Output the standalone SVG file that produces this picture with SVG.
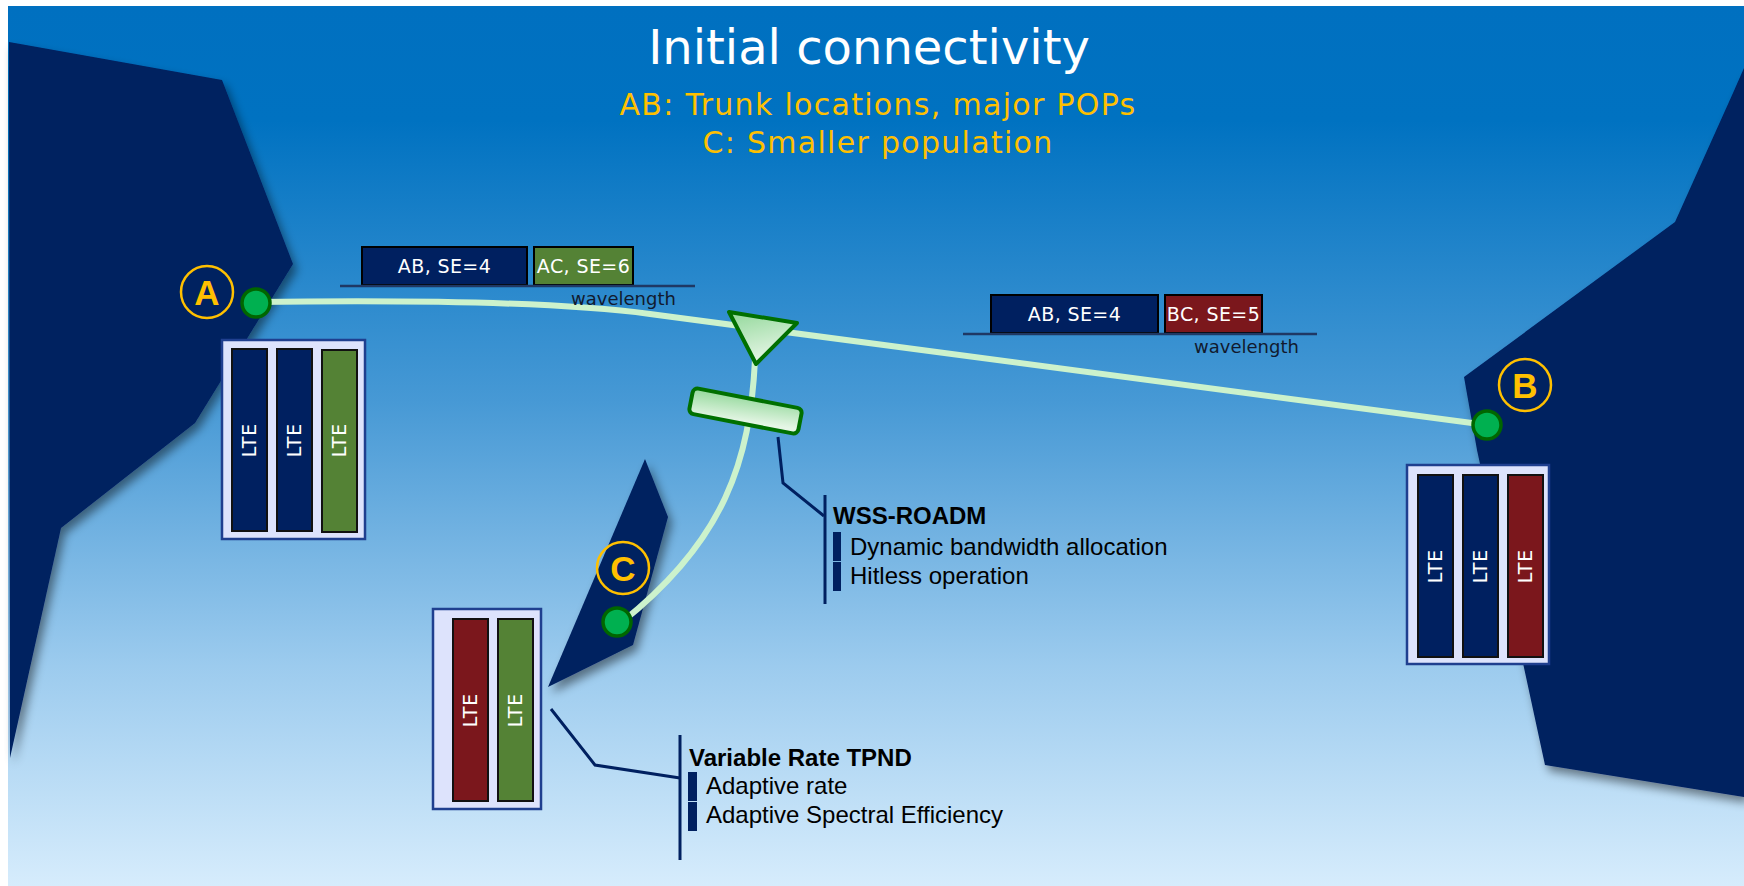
<svg xmlns="http://www.w3.org/2000/svg" width="1744" height="886" viewBox="0 0 1744 886">
  <defs>
    <linearGradient id="sky" x1="0" y1="0" x2="0" y2="1">
      <stop offset="0" stop-color="#0070C0"/>
      <stop offset="0.13" stop-color="#0072C1"/>
      <stop offset="0.45" stop-color="#4799d5"/>
      <stop offset="0.75" stop-color="#9ccbee"/>
      <stop offset="1" stop-color="#d6ecfc"/>
    </linearGradient>
    <linearGradient id="greenFill" x1="0" y1="0" x2="0.3" y2="1">
      <stop offset="0" stop-color="#92d89a"/>
      <stop offset="1" stop-color="#e6f6e6"/>
    </linearGradient>
    <filter id="shadow" x="-20%" y="-20%" width="140%" height="140%">
      <feDropShadow dx="4" dy="6" stdDeviation="5" flood-color="#000" flood-opacity="0.45"/>
    </filter>
    <style>
      .land { fill: #002060; filter: url(#shadow); }
      .title { font-family: "DejaVu Sans", Verdana, sans-serif; fill: #ffffff; font-size: 48px; text-anchor: middle; }
      .sub { font-family: "DejaVu Sans", Verdana, sans-serif; fill: #FFC000; font-size: 30px; text-anchor: middle; letter-spacing: 1.3px; }
      .site { fill: none; stroke: #FFC000; stroke-width: 2.5; }
      .siteTxt { font-family: "Liberation Sans", Arial, sans-serif; font-weight: bold; fill: #FFC000; font-size: 35px; text-anchor: middle; }
      .dot { fill: #00B050; stroke: #006600; stroke-width: 3.5; }
      .fiber { fill: none; stroke: #ccf2cc; stroke-width: 6; }
      .lam { stroke: #000; stroke-width: 2; }
      .lamTxt { font-family: "DejaVu Sans", Verdana, sans-serif; fill: #ffffff; font-size: 19px; text-anchor: middle; letter-spacing: 0.4px; }
      .axis { stroke: #1f3864; stroke-width: 2.5; }
      .wl { font-family: "DejaVu Sans", Verdana, sans-serif; fill: #111a2e; font-size: 18px; }
      .rack { fill: #dde3fc; stroke: #1f3f8f; stroke-width: 2.5; }
      .card { stroke: #111; stroke-width: 2; }
      .cardTxt { font-family: "DejaVu Sans", Verdana, sans-serif; fill: #ffffff; font-size: 19px; text-anchor: middle; letter-spacing: 1px; }
      .navy { fill: #002060; }
      .grn { fill: #548235; }
      .red { fill: #7B171C; }
      .dev { fill: url(#greenFill); stroke: #007000; stroke-width: 4; stroke-linejoin: round; }
      .lead { fill: none; stroke: #002060; stroke-width: 3; }
      .tick { fill: #002060; }
      .hd { font-family: "Liberation Sans", Arial, sans-serif; font-weight: bold; fill: #000; font-size: 24px; }
      .it { font-family: "Liberation Sans", Arial, sans-serif; fill: #000; font-size: 24px; }
    </style>
  </defs>

  <!-- backdrop -->
  <rect x="0" y="0" width="1744" height="886" fill="#ffffff"/>
  <rect x="8" y="6" width="1736" height="880" fill="url(#sky)"/>

  <!-- land masses -->
  <g id="land-west">
    <polygon class="land" points="9,42 222,80 293,264 195,423 61,528 10,758"/>
  </g>
  <g id="land-east">
    <polygon class="land" points="1744,68 1733,93 1675,222 1464,377 1477,450 1545,765 1744,797"/>
  </g>
  <g id="land-south">
    <polygon class="land" points="645,459 668,517 633,645 548,687"/>
  </g>

  <!-- headings -->
  <g id="heading">
    <text class="title" x="869" y="64">Initial connectivity</text>
    <text class="sub" x="878" y="115">AB: Trunk locations, major POPs</text>
    <text class="sub" x="878" y="153">C: Smaller population</text>
  </g>

  <!-- fibre connectors -->
  <g id="connectors">
    <path class="fiber" d="M256,302 C400,300 560,302 650,314 L1487,425"/>
    <path class="fiber" d="M755,360 C750,460 725,540 622,622"/>
    <polyline class="lead" points="778,437 783,483 824,516"/>
    <polyline class="lead" points="551,709 595,765 680,778"/>
  </g>

  <!-- spectrum on link A-B (west) -->
  <g id="spectrum-west">
    <rect class="lam navy" x="362" y="247" width="165" height="38"/>
    <text class="lamTxt" x="444.5" y="273">AB, SE=4</text>
    <rect class="lam grn" x="534" y="247" width="99" height="38"/>
    <text class="lamTxt" x="583.5" y="273">AC, SE=6</text>
    <line class="axis" x1="340" y1="286" x2="695" y2="286"/>
    <text class="wl" x="571" y="305">wavelength</text>
  </g>

  <!-- spectrum on link A-B (east) -->
  <g id="spectrum-east">
    <rect class="lam navy" x="991" y="295" width="167" height="38"/>
    <text class="lamTxt" x="1074.5" y="321">AB, SE=4</text>
    <rect class="lam red" x="1165" y="295" width="97" height="38"/>
    <text class="lamTxt" x="1213.5" y="321">BC, SE=5</text>
    <line class="axis" x1="963" y1="334" x2="1317" y2="334"/>
    <text class="wl" x="1194" y="353">wavelength</text>
  </g>

  <!-- site A -->
  <g id="site-A">
    <circle class="site" cx="207" cy="292" r="26"/>
    <text class="siteTxt" x="207" y="305">A</text>
    <circle class="dot" cx="256" cy="303" r="14"/>
  </g>

  <!-- site B -->
  <g id="site-B">
    <circle class="site" cx="1525" cy="385" r="26"/>
    <text class="siteTxt" x="1525" y="398">B</text>
    <circle class="dot" cx="1487" cy="425" r="14"/>
  </g>

  <!-- site C -->
  <g id="site-C">
    <circle class="site" cx="623" cy="568" r="26"/>
    <text class="siteTxt" x="623" y="581">C</text>
    <circle class="dot" cx="617" cy="622" r="14"/>
  </g>

  <!-- transponder rack at A -->
  <g id="rack-A">
    <rect class="rack" x="222" y="340" width="143" height="199"/>
    <rect class="card navy" x="232" y="349" width="35" height="182"/>
    <rect class="card navy" x="277" y="349" width="35" height="182"/>
    <rect class="card grn" x="322" y="350" width="35" height="182"/>
    <text class="cardTxt" transform="translate(256,440) rotate(-90)">LTE</text>
    <text class="cardTxt" transform="translate(301,440) rotate(-90)">LTE</text>
    <text class="cardTxt" transform="translate(346,440) rotate(-90)">LTE</text>
  </g>

  <!-- transponder rack at B -->
  <g id="rack-B">
    <rect class="rack" x="1407" y="465" width="142" height="199"/>
    <rect class="card navy" x="1418" y="475" width="35" height="182"/>
    <rect class="card navy" x="1463" y="475" width="35" height="182"/>
    <rect class="card red" x="1508" y="475" width="35" height="182"/>
    <text class="cardTxt" transform="translate(1442,566) rotate(-90)">LTE</text>
    <text class="cardTxt" transform="translate(1487,566) rotate(-90)">LTE</text>
    <text class="cardTxt" transform="translate(1532,566) rotate(-90)">LTE</text>
  </g>

  <!-- transponder rack at C -->
  <g id="rack-C">
    <rect class="rack" x="433" y="609" width="108" height="200"/>
    <rect class="card red" x="453" y="619" width="35" height="182"/>
    <rect class="card grn" x="498" y="619" width="35" height="182"/>
    <text class="cardTxt" transform="translate(477,710) rotate(-90)">LTE</text>
    <text class="cardTxt" transform="translate(522,710) rotate(-90)">LTE</text>
  </g>

  <!-- WSS splitter and ROADM block -->
  <g id="wss">
    <polygon class="dev" points="729,312 797,323 756,364"/>
    <rect class="dev" x="690" y="398" width="111" height="26" rx="5" transform="rotate(11 745.5 411)"/>
  </g>

  <!-- ROADM callout -->
  <g id="callout-roadm">
    <line class="lead" x1="825" y1="495" x2="825" y2="604"/>
    <rect class="tick" x="833" y="532" width="8" height="29"/>
    <rect class="tick" x="833" y="562" width="8" height="29"/>
    <text class="hd" x="833" y="524">WSS-ROADM</text>
    <text class="it" x="850" y="555">Dynamic bandwidth allocation</text>
    <text class="it" x="850" y="584">Hitless operation</text>
  </g>

  <!-- transponder callout -->
  <g id="callout-tpnd">
    <line class="lead" x1="680" y1="735" x2="680" y2="860"/>
    <rect class="tick" x="688" y="772" width="9" height="29"/>
    <rect class="tick" x="688" y="802" width="9" height="29"/>
    <text class="hd" x="689" y="766">Variable Rate TPND</text>
    <text class="it" x="706" y="794">Adaptive rate</text>
    <text class="it" x="706" y="823">Adaptive Spectral Efficiency</text>
  </g>
</svg>
